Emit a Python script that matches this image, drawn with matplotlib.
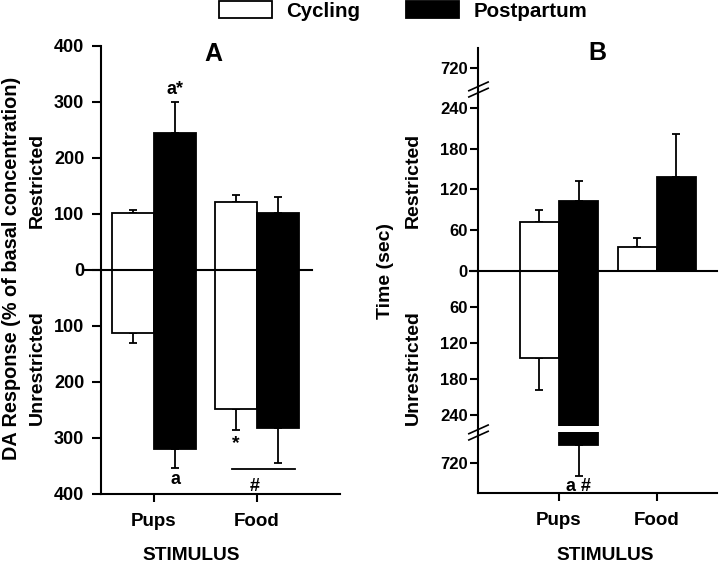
import numpy as np
import matplotlib
matplotlib.use("Agg")
import matplotlib.pyplot as plt
from matplotlib.patches import Patch
from matplotlib.path import Path

plt.rcParams['font.family'] = ['Liberation Sans', 'DejaVu Sans']
plt.rcParams['font.weight'] = 'bold'

# ---------------- data ----------------
stimuli = ["Pups", "Food"]
groups = ["Cycling", "Postpartum"]

# panel A: DA response (% of basal), restricted (up) / unrestricted (down)
a_restr_cyc = [101, 121]
a_restr_cyc_err = [5, 12]
a_restr_pp = [245, 101]
a_restr_pp_err = [54, 29]
a_unres_cyc = [112, 249]
a_unres_cyc_err = [19, 37]
a_unres_pp = [320, 282]
a_unres_pp_err = [33, 63]

# panel B: time (sec)
b_restr_cyc = [72, 35]
b_restr_cyc_err = [18, 13]
b_restr_pp = [103, 139]
b_restr_pp_err = [30, 63]
b_unres_cyc = [146, np.nan]
b_unres_cyc_err = [52, np.nan]
b_unres_pp = [538, np.nan]
b_unres_pp_err = [308, np.nan]

a_ticks = [400, 300, 200, 100, 0, -100, -200, -300, -400]
b_ticks = [720, 240, 180, 120, 60, 0, -60, -120, -180, -240, -720]


# broken axis for panel B (piecewise linear scale)
def fwd(v):
    v = np.asarray(v, dtype=float)
    up = np.where(v <= 240, v * 0.6767, 162.4 + (v - 240) * 0.08333)
    dn = np.where(v >= -240, v * 0.601, -(144.3 + (-v - 240) * 0.10063))
    return np.where(v >= 0, up, dn)


def inv(u):
    u = np.asarray(u, dtype=float)
    up = np.where(u <= 162.4, u / 0.6767, 240 + (u - 162.4) / 0.08333)
    dn = np.where(u >= -144.3, u / 0.601, -(240 + (-u - 144.3) / 0.10063))
    return np.where(u >= 0, up, dn)


fig = plt.figure(figsize=(7.2, 5.65), dpi=100)
axA = fig.add_axes([0.1403, 0.1257, 0.332, 0.7935])
axB = fig.add_axes([0.6639, 0.128, 0.3315, 0.787])

x = np.arange(len(stimuli))
ekw = dict(fmt='none', ecolor='black', elinewidth=1.3, capsize=3, capthick=1.3, zorder=1)


def draw(ax, bw, rc, rce, rp, rpe, uc, uce, up, upe):
    xc = x - bw / 2
    xp = x + bw / 2
    ax.bar(xc, rc, bw, color='white', edgecolor='black', lw=1.3, zorder=2)
    ax.bar(xp, rp, bw, color='black', edgecolor='black', lw=1.3, zorder=2)
    ax.bar(xc, -np.array(uc), bw, color='white', edgecolor='black', lw=1.3, zorder=2)
    ax.bar(xp, -np.array(up), bw, color='black', edgecolor='black', lw=1.3, zorder=2)
    z = np.zeros(len(x))
    ax.errorbar(xc, rc, yerr=[z, rce], **ekw)
    ax.errorbar(xp, rp, yerr=[z, rpe], **ekw)
    ax.errorbar(xc, -np.array(uc), yerr=[uce, z], **ekw)
    ax.errorbar(xp, -np.array(up), yerr=[upe, z], **ekw)


for ax in (axA, axB):
    for s in ['top', 'right']:
        ax.spines[s].set_visible(False)
    for s in ['left', 'bottom']:
        ax.spines[s].set_linewidth(1.5)
    ax.set_xticks(x)
    ax.set_xticklabels(stimuli)
    ax.tick_params(axis='x', length=6, width=1.5, pad=8, labelsize=13.5)

# ---- panel A ----
draw(axA, 0.41, a_restr_cyc, a_restr_cyc_err, a_restr_pp, a_restr_pp_err,
     a_unres_cyc, a_unres_cyc_err, a_unres_pp, a_unres_pp_err)
axA.set_xlim(-0.515, 1.806)
axA.set_ylim(-400, 400)
axA.set_yticks(a_ticks)
axA.set_yticklabels([str(abs(t)) for t in a_ticks])
axA.tick_params(axis='y', length=6.5, width=1.5, pad=5.5, labelsize=13)
axA.axhline(0, xmin=-0.067, xmax=0.883, color='black', lw=1.5, clip_on=False, zorder=3)
axA.text(0.47, 1.008, "A", transform=axA.transAxes, ha='center', va='top', fontsize=18)
axA.text(0.205, 321, "a*", ha='center', va='center', fontsize=13)
axA.text(0.205, -375, "a", ha='center', va='center', fontsize=13)
axA.text(0.795, -310, "*", ha='center', va='center', fontsize=14)
axA.plot([0.76, 1.37], [-355, -355], color='black', lw=1.3)
axA.text(0.98, -386, "#", ha='center', va='center', fontsize=13)

# ---- panel B ----
axB.set_yscale('function', functions=(fwd, inv))
draw(axB, 0.40, b_restr_cyc, b_restr_cyc_err, b_restr_pp, b_restr_pp_err,
     b_unres_cyc, b_unres_cyc_err, b_unres_pp, b_unres_pp_err)
# gap in the broken bar
axB.bar(0.2, -63, 0.44, bottom=-349, color='white', edgecolor='none', zorder=2.5)
axB.set_xlim(-0.829, 1.614)
axB.set_ylim(-1012, 963)
axB.set_yticks(b_ticks)
axB.set_yticklabels([str(abs(t)) for t in b_ticks])
axB.yaxis.set_minor_locator(matplotlib.ticker.NullLocator())
axB.tick_params(axis='y', length=6, width=1.5, pad=1.5, labelsize=12)
axB.axhline(0, xmin=-0.034, xmax=1.0, color='black', lw=1.5, clip_on=False, zorder=3)
axB.text(0.5, 1.016, "B", transform=axB.transAxes, ha='center', va='top', fontsize=18)
axB.text(0.2, -950, "a #", ha='center', va='center', fontsize=13)

brk = Path([(-1, -0.75), (1, 0.15), (-1, -0.15), (1, 0.75)],
           [Path.MOVETO, Path.LINETO, Path.MOVETO, Path.LINETO])
for yb in (466, -409):
    axB.plot([-0.829], [yb], marker=brk, ms=15, mew=1.2, color='black',
             clip_on=False, zorder=4, linestyle='none')

# ---- labels ----
W, H = 720, 565
fig.text(12 / W, 1 - 268 / H, "DA Response (% of basal concentration)", rotation=90,
         ha='center', va='center', fontsize=14.3)
fig.text(37 / W, 1 - 180 / H, "Restricted", rotation=90, ha='center', va='center', fontsize=14)
fig.text(37 / W, 1 - 368 / H, "Unrestricted", rotation=90, ha='center', va='center', fontsize=14)
fig.text(385 / W, 1 - 271 / H, "Time (sec)", rotation=90, ha='center', va='center', fontsize=14)
fig.text(413 / W, 1 - 180 / H, "Restricted", rotation=90, ha='center', va='center', fontsize=14)
fig.text(413 / W, 1 - 368 / H, "Unrestricted", rotation=90, ha='center', va='center', fontsize=14)
fig.text(191 / W, 1 - 555 / H, "STIMULUS", ha='center', va='center', fontsize=13.8)
fig.text(605 / W, 1 - 555 / H, "STIMULUS", ha='center', va='center', fontsize=13.8)

handles = [Patch(facecolor='white', edgecolor='black', lw=1.3),
           Patch(facecolor='black', edgecolor='black', lw=1.3)]
fig.legend(handles, groups, loc='center', bbox_to_anchor=(403 / W, 1 - 11 / H), ncol=2,
           frameon=False, fontsize=14.8, handlelength=2.6, handleheight=0.85,
           handletextpad=0.7, columnspacing=2.2, borderpad=0)

fig.savefig("out.png", dpi=100)
